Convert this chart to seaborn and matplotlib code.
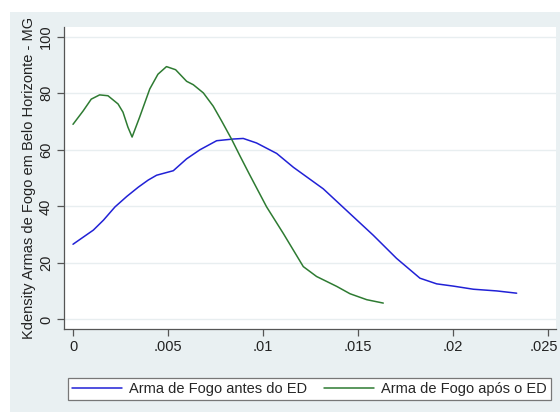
import matplotlib
matplotlib.use("Agg")
import matplotlib.pyplot as plt
import matplotlib.transforms as mtransforms
from matplotlib.patches import Rectangle
import numpy as np
import pandas as pd
import seaborn as sns

# Kernel density estimates (sampled points) for each period
antes_x = [0.0, 0.00107, 0.0016, 0.00221, 0.00283, 0.00344, 0.00396, 0.0044,
           0.00528, 0.00598, 0.00668, 0.00756, 0.00844, 0.00896, 0.00966,
           0.01072, 0.0116, 0.01317, 0.01458, 0.0158, 0.01703, 0.01826,
           0.01914, 0.02002, 0.02107, 0.0223, 0.02335]
antes_y = [26.6, 31.6, 35.1, 39.8, 43.5, 46.8, 49.3, 51.0,
           52.6, 56.8, 60.0, 63.2, 63.8, 64.0, 62.4,
           58.7, 53.8, 46.2, 37.4, 29.8, 21.6, 14.6,
           12.6, 11.8, 10.7, 10.1, 9.3]

apos_x = [0.0, 0.00053, 0.00096, 0.0014, 0.00184, 0.00237, 0.00263, 0.00289,
          0.00311, 0.00351, 0.00404, 0.00447, 0.00492, 0.00540, 0.00598, 0.00633,
          0.00686, 0.00738, 0.00782, 0.00835, 0.00879, 0.00928, 0.01019, 0.01107,
          0.01212, 0.01282, 0.01388, 0.01458, 0.01546, 0.01633]
apos_y = [69.0, 73.7, 77.9, 79.4, 79.1, 76.2, 73.3, 68.0,
          64.5, 71.6, 81.5, 86.7, 89.4, 88.3, 84.2, 83.0,
          80.1, 75.4, 70.2, 63.7, 57.8, 51.4, 39.8, 30.4,
          18.7, 15.2, 11.7, 9.1, 7.0, 5.8]

series_names = ["Arma de Fogo antes do ED", "Arma de Fogo após o ED"]
x_ticks = [0, 0.005, 0.01, 0.015, 0.02, 0.025]
x_tick_labels = ["0", ".005", ".01", ".015", ".02", ".025"]
y_ticks = [0, 20, 40, 60, 80, 100]
y_tick_labels = ["0", "20", "40", "60", "80", "100"]
y_label = "Kdensity Armas de Fogo em Belo Horizonte - MG"

df = pd.concat([
    pd.DataFrame({"x": antes_x, "y": antes_y, "serie": series_names[0]}),
    pd.DataFrame({"x": apos_x, "y": apos_y, "serie": series_names[1]}),
], ignore_index=True)

sns.set_theme(style="white")
plt.rcParams["font.family"] = ["Liberation Sans", "DejaVu Sans"]

W, H = 560, 412
fig = plt.figure(figsize=(W / 100, H / 100), dpi=100, facecolor="white")

# outer graph region, drawn behind the axes
fig.patches.append(Rectangle((10 / W, 0), 1 - 10 / W, (H - 12) / H,
                             transform=fig.transFigure, facecolor="#E9F0F2",
                             edgecolor="none", zorder=-10))

ax = fig.add_axes([64 / W, (H - 329) / H, (556 - 64) / W, (329 - 27) / H])
ax.set_zorder(1)
ax.set_facecolor("white")

palette = {series_names[0]: "#2121D6", series_names[1]: "#2E7B32"}
sns.lineplot(data=df, x="x", y="y", hue="serie", palette=palette,
             sort=False, estimator=None, linewidth=1.1, ax=ax, legend=True)

ax.set_xlim(-0.000474, 0.025421)
ax.set_ylim(-3.36, 103.4)

ax.set_yticks(y_ticks)
ax.set_yticklabels(y_tick_labels, rotation=90, va="center", fontsize=10.5, color="#222222")
ax.set_xticks(x_ticks)
ax.set_xticklabels(x_tick_labels, fontsize=10.5, color="#222222")
ax.tick_params(axis="both", direction="out", length=5, width=0.9, color="#555555",
               left=True, bottom=True, pad=3)

# keep the last x tick label inside the figure edge
last = ax.get_xticklabels()[-1]
last.set_transform(last.get_transform() +
                   mtransforms.ScaledTranslation(-4 / 100, 0, fig.dpi_scale_trans))

ax.grid(axis="y", color="#E8EEF0", linewidth=1.0)
ax.grid(axis="x", visible=False)

for side in ["top", "right"]:
    ax.spines[side].set_visible(False)
for side in ["left", "bottom"]:
    ax.spines[side].set_color("#555555")
    ax.spines[side].set_linewidth(0.9)

ax.set_xlabel("")
ax.set_ylabel(y_label, fontsize=10.5, color="#222222", labelpad=2)

handles, labels = ax.get_legend_handles_labels()
ax.legend(handles, labels, ncol=2, mode="expand",
          bbox_to_anchor=(68 / W, (H - 402) / H, (551 - 68) / W, 26 / H),
          bbox_transform=fig.transFigure, loc="center",
          frameon=True, fancybox=False, edgecolor="#777777", facecolor="white",
          framealpha=1, fontsize=10.5, handlelength=3.4, handletextpad=0.5,
          borderaxespad=0, borderpad=0.3)
leg = ax.get_legend()
leg.get_frame().set_linewidth(0.9)

fig.savefig("out.png", dpi=100, facecolor="white")
